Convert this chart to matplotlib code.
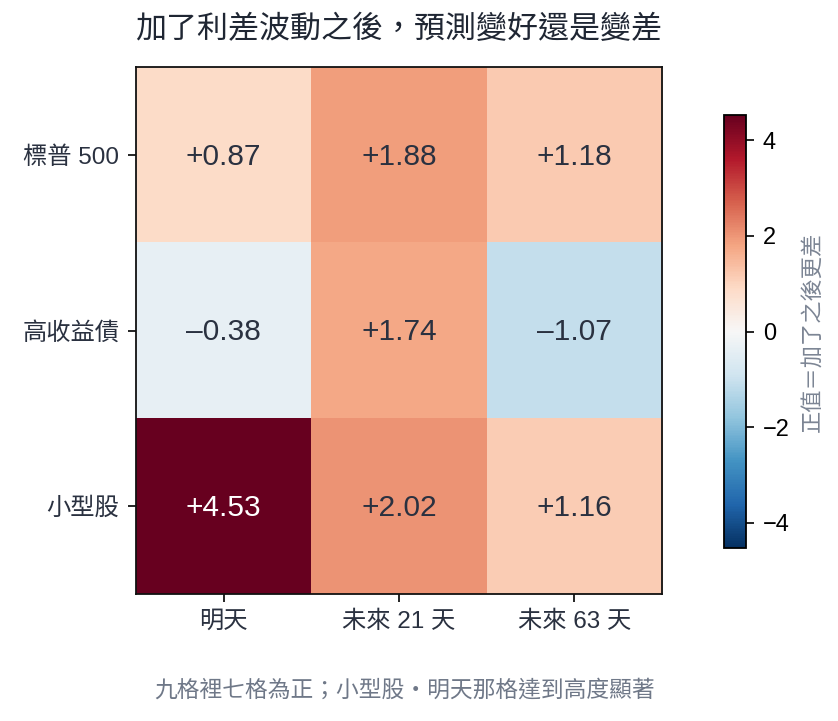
import matplotlib
matplotlib.use("Agg")
import matplotlib.pyplot as plt
import numpy as np

plt.rcParams['font.family'] = ['Liberation Sans', 'Noto Sans CJK TC', 'DejaVu Sans']

rows = ["標普 500", "高收益債", "小型股"]
cols = ["明天", "未來 21 天", "未來 63 天"]
values = [
    [0.87, 1.88, 1.18],
    [-0.38, 1.74, -1.07],
    [4.53, 2.02, 1.16],
]
title = "加了利差波動之後，預測變好還是變差"
cbar_label = "正值＝加了之後更差"
footnote = "九格裡七格為正；小型股・明天那格達到高度顯著"

data = np.array(values)
vmax = np.abs(data).max()

fig = plt.figure(figsize=(8.38, 7.21), dpi=100)
ax = fig.add_axes([136/838, 1-594/721, 526/838, 527/721])
im = ax.imshow(data, cmap="RdBu_r", vmin=-vmax, vmax=vmax, aspect="auto")

dark = "#2a3140"
for i in range(data.shape[0]):
    for j in range(data.shape[1]):
        v = data[i, j]
        s = f"+{v:.2f}" if v >= 0 else f"\u2013{abs(v):.2f}"
        color = "white" if abs(v) > 3 else dark
        ax.text(j, i + 0.01, s, ha="center", va="center", fontsize=21.5, color=color)

ax.set_xticks(range(len(cols)))
ax.set_xticklabels(cols, fontsize=17.5, color=dark)
ax.set_yticks(range(len(rows)))
ax.set_yticklabels(rows, fontsize=17.5, color=dark)
ax.tick_params(length=6, width=1.2, pad=6)
for sp in ax.spines.values():
    sp.set_linewidth(1.3)
    sp.set_color("#111111")

cax = fig.add_axes([724/838, 1-548/721, 22/838, 433/721])
cb = fig.colorbar(im, cax=cax)
cb.set_ticks([-4, -2, 0, 2, 4])
cb.ax.tick_params(labelsize=17, length=6, width=1.2, pad=6)
cb.outline.set_linewidth(1.3)
cb.set_label(cbar_label, fontsize=16, color="#7c8594", labelpad=10)

fig.text(399/838, 1-30/721, title, ha="center", va="center", fontsize=22.3, color="#1f2633")
fig.text(405/838, 1-690/721, footnote, ha="center", va="center", fontsize=16.4, color="#6f7888")

fig.savefig("out.png", dpi=100)
